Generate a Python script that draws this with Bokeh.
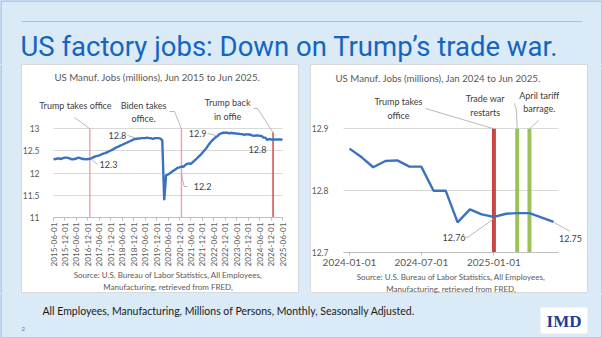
import math
import pandas as pd
from bokeh.plotting import figure
from bokeh.layouts import column, row
from bokeh.models import Range1d, FixedTicker, Label, Arrow, ColumnDataSource, Spacer, Grid
from bokeh.core.properties import value
from bokeh.embed import file_html
from bokeh.resources import INLINE

# ---------------- data ----------------
slide_title = "US factory jobs: Down on Trump’s trade war."
footer_note = "All Employees, Manufacturing, Millions of Persons, Monthly, Seasonally Adjusted."
source_note = "Source: U.S. Bureau of Labor Statistics, All Employees,\nManufacturing, retrieved from FRED,"
page_number = "2"
logo_text = "IMD"

left_title = "US Manuf. Jobs (millions), Jun 2015 to Jun 2025."
left_start = "2015-06-01"
left_jobs = [
    12.31, 12.32, 12.33, 12.33, 12.32, 12.34, 12.35,                              # 2015 Jun-Dec
    12.35, 12.34, 12.32, 12.31, 12.32, 12.33, 12.35, 12.34, 12.32, 12.32, 12.31, 12.32,  # 2016
    12.32, 12.34, 12.36, 12.38, 12.39, 12.40, 12.42, 12.44, 12.45, 12.47, 12.49, 12.51,  # 2017
    12.53, 12.56, 12.58, 12.60, 12.62, 12.64, 12.66, 12.68, 12.70, 12.72, 12.74, 12.76,  # 2018
    12.77, 12.78, 12.78, 12.79, 12.79, 12.79, 12.80, 12.79, 12.79, 12.77, 12.79, 12.79,  # 2019
    12.79, 12.78, 12.74, 11.39, 11.95, 11.97, 12.00, 12.03, 12.06, 12.09, 12.12, 12.13,  # 2020
    12.15, 12.14, 12.18, 12.21, 12.22, 12.21, 12.25, 12.29, 12.33, 12.37, 12.41, 12.46,  # 2021
    12.51, 12.56, 12.62, 12.68, 12.73, 12.77, 12.81, 12.84, 12.88, 12.90, 12.91, 12.91,  # 2022
    12.91, 12.90, 12.91, 12.90, 12.90, 12.89, 12.89, 12.88, 12.88, 12.86, 12.88, 12.87,  # 2023
    12.87, 12.85, 12.84, 12.85, 12.85, 12.84, 12.84, 12.80, 12.80, 12.75, 12.77, 12.76,  # 2024
    12.76, 12.76, 12.76, 12.76, 12.76, 12.75,                                      # 2025 Jan-Jun
]
left_xtick_labels = [
    "2015-06-01", "2015-12-01", "2016-06-01", "2016-12-01", "2017-06-01", "2017-12-01",
    "2018-06-01", "2018-12-01", "2019-06-01", "2019-12-01", "2020-06-01", "2020-12-01",
    "2021-06-01", "2021-12-01", "2022-06-01", "2022-12-01", "2023-06-01", "2023-12-01",
    "2024-06-01", "2024-12-01", "2025-06-01",
]
left_ytick_values = [11, 11.5, 12, 12.5, 13]
left_ytick_labels = ["11", "11.5", "12", "12.5", "13"]
left_event_dates = ["2017-01-01", "2021-01-01", "2025-01-01"]
left_event_tops = [13, 13, 12.92]

right_title = "US Manuf. Jobs (millions), Jan 2024 to Jun 2025."
right_start = "2024-01-01"
right_jobs = [12.868, 12.854, 12.838, 12.848, 12.849, 12.839, 12.839, 12.800, 12.800,
              12.749, 12.770, 12.762, 12.758, 12.763, 12.764, 12.764, 12.757, 12.750]
right_xtick_labels = ["2024-01-01", "2024-07-01", "2025-01-01"]
right_ytick_values = [12.7, 12.8, 12.9]
right_ytick_labels = ["12.7", "12.8", "12.9"]
right_event_dates = ["2025-01-01", "2025-03-01", "2025-04-01"]
right_event_tops = [12.9, 12.9, 12.9]

# ---------------- styles ----------------
BG = "#DAEAF6"
EDGE = "#9DC3E6"
TITLE_BLUE = "#1565C0"
SERIES = "#3A72C0"
GRID = "#D9D9D9"
AXIS = "#BFBFBF"
TXT = "#404040"
AX_TXT = "#595959"
LEAD = "#A6A6A6"
FONT = "Lato"
HAS_CROSS_BOUNDS = "cross_bounds" in Grid.properties()


def ms(d):
    return pd.Timestamp(d).value / 1e6


def px_map(v0, v1, p0, p1):
    """value <- slide pixel mapping through two reference points (layout helper)."""
    k = (v1 - v0) / (p1 - p0)
    return lambda px: v0 + (px - p0) * k


def add_label(p, x, y, text, size="9px", color=TXT):
    p.add_layout(Label(x=ms(x), y=y, text=text, text_font=FONT, text_font_size=size,
                       text_color=color, text_align="center", text_baseline="middle",
                       text_line_height=1.25))


def add_leader(p, pts):
    for (xa, ya), (xb, yb) in zip(pts[:-1], pts[1:]):
        p.add_layout(Arrow(end=None, x_start=ms(xa), y_start=ya, x_end=ms(xb), y_end=yb,
                           line_color=LEAD, line_width=0.8))


def chart(xmap, ymap, slide_x0, slide_x1, axis_x0, axis_x1, yticks, ylabels, xticks):
    # the frame fills the whole white panel (slide y 64..293); axes sit at fixed locations
    p = figure(width=278, height=229, x_axis_type="datetime",
               x_range=Range1d(xmap(slide_x0), xmap(slide_x1)),
               y_range=Range1d(ymap(293), ymap(64)),
               output_backend="svg", toolbar_location=None, min_border=0)
    p.title.visible = False
    p.background_fill_color = "white"
    p.border_fill_color = "white"
    p.outline_line_color = "#D9D9D9"
    p.xgrid.visible = False
    lo, hi = xmap(axis_x0), xmap(axis_x1)
    ya = p.yaxis[0]
    ya.fixed_location = lo
    ya.ticker = FixedTicker(ticks=yticks)
    ya.major_label_overrides = dict(zip(yticks, ylabels))
    ya.axis_line_color = None
    ya.major_tick_line_color = None
    ya.minor_tick_line_color = None
    ya.major_label_standoff = 8
    ya.major_label_text_font = FONT
    ya.major_label_text_font_size = "8.5px"
    ya.major_label_text_color = AX_TXT
    if HAS_CROSS_BOUNDS:
        p.ygrid.cross_bounds = (lo, hi)
        p.ygrid.grid_line_color = GRID
    else:
        p.ygrid.visible = False
        p.segment(x0=[lo] * len(yticks), y0=yticks, x1=[hi] * len(yticks), y1=yticks,
                  line_color=GRID, line_width=1, level="underlay")
    xa = p.xaxis[0]
    xa.fixed_location = yticks[0]
    xa.bounds = (lo, hi)
    xa.ticker = FixedTicker(ticks=[ms(s) for s in xticks])
    xa.major_label_overrides = {ms(s): s for s in xticks}
    xa.axis_line_color = AXIS
    xa.major_tick_line_color = AXIS
    xa.minor_tick_line_color = None
    xa.major_tick_out = 3
    xa.major_tick_in = 0
    xa.major_label_text_font = FONT
    xa.major_label_text_color = AX_TXT
    xa.axis_label = source_note
    xa.axis_label_text_font = FONT
    xa.axis_label_text_font_size = "8px"
    xa.axis_label_text_font_style = "normal"
    xa.axis_label_text_color = AX_TXT
    return p


# ---------------- left chart ----------------
lx = px_map(ms(left_xtick_labels[0]), ms(left_xtick_labels[-1]), 53, 282)
ly = px_map(left_ytick_values[0], left_ytick_values[-1], 217, 128.3)
pl = chart(lx, ly, 21, 299, 53, 282, left_ytick_values, left_ytick_labels, left_xtick_labels)
pl.xaxis.major_label_orientation = math.pi / 2
pl.xaxis.major_label_text_font_size = "8.2px"
pl.xaxis.major_label_standoff = 2
pl.xaxis.axis_label_standoff = 0

ev_l = ColumnDataSource(dict(x=pd.to_datetime(left_event_dates), top=left_event_tops,
                             bottom=[left_ytick_values[0]] * len(left_event_dates),
                             color=["#EBA4A4", "#EBA4A4", "#D23C3C"]))
pl.segment(x0="x", y0="bottom", x1="x", y1="top", source=ev_l, line_color="color", line_width=1.4)
left_dates = pd.date_range(left_start, periods=len(left_jobs), freq="MS")
pl.line(left_dates, left_jobs, line_color=SERIES, line_width=2.4)

add_label(pl, "2019-12-16", 14.157, left_title, size="9.7px", color=AX_TXT)
add_label(pl, "2016-05-16", 13.525, "Trump takes office")
add_label(pl, "2019-05-07", 13.379, "Biden takes\noffice.")
add_label(pl, "2023-01-07", 13.435, "Trump back\nin offie")
add_label(pl, "2018-03-16", 12.849, "12.8")
add_label(pl, "2017-10-25", 12.195, "12.3")
add_label(pl, "2021-12-04", 11.699, "12.2")
add_label(pl, "2021-09-16", 12.894, "12.9")
add_label(pl, "2024-04-28", 12.533, "12.8")
add_leader(pl, [("2016-05-01", 13.255), ("2017-01-01", 13.0)])
add_leader(pl, [("2020-06-25", 13.39), ("2020-09-13", 13.39), ("2021-01-01", 13.0)])
add_leader(pl, [("2024-02-25", 13.458), ("2024-04-28", 13.458), ("2025-01-01", 12.917)])
add_leader(pl, [("2018-08-25", 12.849), ("2019-01-01", 12.793)])
add_leader(pl, [("2017-01-28", 12.308), ("2017-05-04", 12.195)])
add_leader(pl, [("2021-01-01", 11.992), ("2021-02-12", 11.699), ("2021-04-07", 11.699)])
add_leader(pl, [("2022-02-22", 12.894), ("2022-07-13", 12.849)])

# ---------------- right chart ----------------
rx = px_map(ms(right_start), ms("2025-06-01"), 349, 553)
ry = px_map(right_ytick_values[0], right_ytick_values[-1], 252.3, 128.3)
pr = chart(rx, ry, 310, 588, 343, 558, right_ytick_values, right_ytick_labels,
           right_xtick_labels)
pr.xaxis.major_label_text_font_size = "10px"
pr.xaxis.major_label_standoff = 3
pr.xaxis.axis_label_standoff = 3
pr.yaxis.major_label_standoff = 9

ev_r = ColumnDataSource(dict(x=pd.to_datetime(right_event_dates), top=right_event_tops,
                             bottom=[right_ytick_values[0]] * len(right_event_dates),
                             color=["#C9453F", "#9BC255", "#9BC255"]))
pr.vbar(x="x", width=10 * 24 * 3600 * 1000, top="top", bottom="bottom", source=ev_r,
        fill_color="color", line_color=None)
right_dates = pd.date_range(right_start, periods=len(right_jobs), freq="MS")
pr.line(right_dates, right_jobs, line_color=SERIES, line_width=2.4)

add_label(pr, "2024-08-13", 12.9827, right_title, size="9.7px", color=AX_TXT)
add_label(pr, "2024-05-04", 12.9327, "Trump takes\noffice")
add_label(pr, "2024-12-10", 12.9376, "Trade war\nrestarts")
add_label(pr, "2025-04-26", 12.9432, "April tariff\nbarrage.")
add_label(pr, "2024-09-22", 12.7252, "12.76")
add_label(pr, "2025-07-14", 12.7235, "12.75")
add_leader(pr, [("2024-07-12", 12.9327), ("2025-01-01", 12.9)])
add_leader(pr, [("2025-02-22", 12.941), ("2025-02-27", 12.931), ("2025-03-01", 12.9)])
add_leader(pr, [("2025-04-24", 12.9134), ("2025-04-01", 12.9)])
add_leader(pr, [("2024-10-17", 12.7252), ("2024-10-27", 12.7252), ("2025-01-01", 12.7548)])
add_leader(pr, [("2025-06-01", 12.7494), ("2025-07-12", 12.7348)])


# ---------------- slide frame ----------------
def plain(w, h):
    p = figure(width=w, height=h, x_range=Range1d(0, w), y_range=Range1d(h, 0),
               x_axis_location=None, y_axis_location=None, min_border=0,
               output_backend="svg", toolbar_location=None)
    p.title.visible = False
    p.grid.visible = False
    p.outline_line_color = None
    p.background_fill_color = BG
    p.border_fill_color = BG
    return p


head = plain(602, 64)
head.segment(x0=[21], y0=[21], x1=[582], y1=[21], line_color=EDGE, line_width=1.2)
head.segment(x0=[0.5, 601.5, 0], y0=[0, 0, 0.5], x1=[0.5, 601.5, 602], y1=[64, 64, 0.5],
             line_color=EDGE, line_width=1.5)
head.text(x=[20], y=[46], text=[slide_title], text_font=value("Roboto"), text_font_size="27.5px",
          text_color=TITLE_BLUE, text_baseline="middle", text_align="left")

padl = plain(21, 229)
padl.segment(x0=[0.5], y0=[0], x1=[0.5], y1=[229], line_color=EDGE, line_width=1.5)
padr = plain(14, 229)
padr.segment(x0=[13.5], y0=[0], x1=[13.5], y1=[229], line_color=EDGE, line_width=1.5)
gap = Spacer(width=11, height=229, styles={"background-color": BG})

foot = plain(602, 45)
foot.segment(x0=[0.5, 601.5, 0], y0=[0, 0, 44.5], x1=[0.5, 601.5, 602], y1=[45, 45, 44.5],
             line_color=EDGE, line_width=1.5)
foot.text(x=[42], y=[17], text=[footer_note], text_font=value(FONT), text_font_size="10.5px",
          text_color="#1A1A1A", text_baseline="middle", text_align="left")
foot.text(x=[21], y=[35], text=[page_number], text_font=value(FONT), text_font_size="6px",
          text_color="#4F81BD", text_baseline="middle", text_align="left")
foot.quad(left=[540], right=[587], top=[14], bottom=[40], fill_color="white", line_color=None)
foot.text(x=[563.5], y=[27.5], text=[logo_text], text_font=value("Liberation Serif"),
          text_font_size="17px", text_font_style="bold", text_color="#1F3F94",
          text_baseline="middle", text_align="center")

layout = column(head, row(padl, pl, gap, pr, padr, styles={"background-color": BG}), foot,
                styles={"background-color": BG})

open("out.html", "w").write(file_html(layout, INLINE))
